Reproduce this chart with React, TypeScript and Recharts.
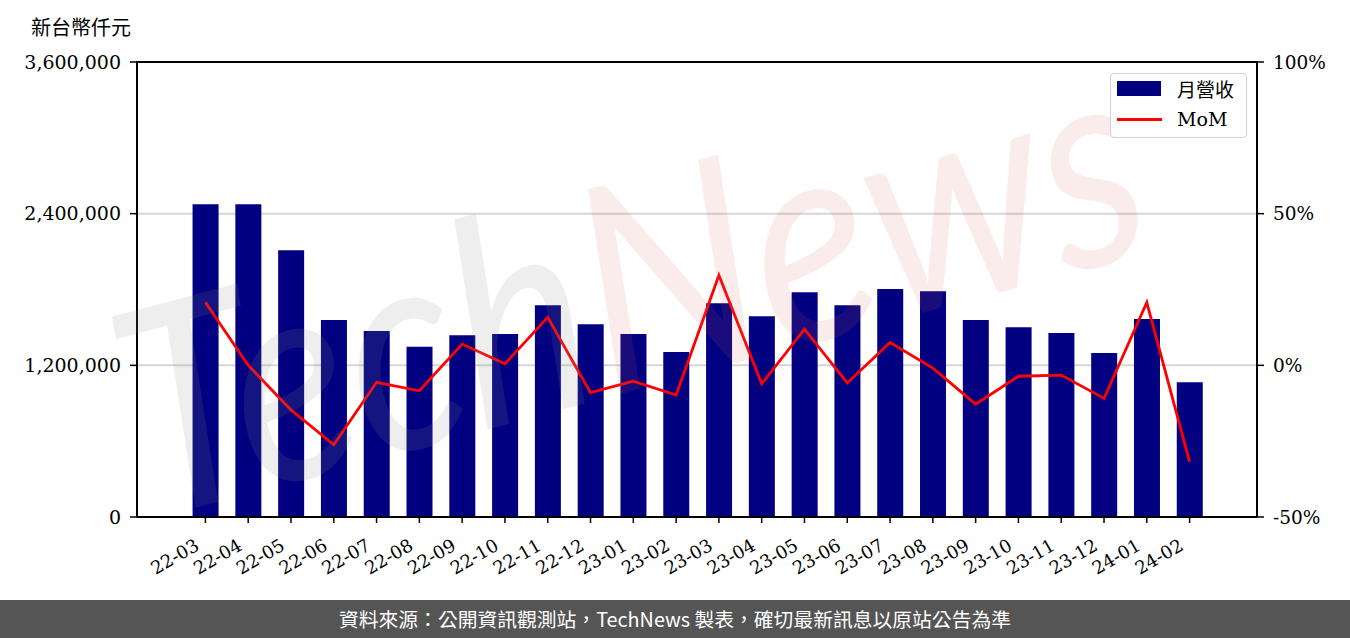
import { ComposedChart, Bar, Line, XAxis, YAxis, CartesianGrid } from 'recharts'

const months = [
  '22-03', '22-04', '22-05', '22-06', '22-07', '22-08', '22-09', '22-10',
  '22-11', '22-12', '23-01', '23-02', '23-03', '23-04', '23-05', '23-06',
  '23-07', '23-08', '23-09', '23-10', '23-11', '23-12', '24-01', '24-02',
]

// 月營收 (新台幣仟元)
const revenue = [
  2475000, 2475000, 2111000, 1558000, 1471000, 1347000, 1439000, 1447000,
  1676000, 1526000, 1447000, 1305000, 1692000, 1589000, 1779000, 1676000,
  1803000, 1787000, 1558000, 1502000, 1455000, 1297000, 1566000, 1067000,
]

// MoM (%)
const mom = [
  20.8, 0.0, -14.7, -26.2, -5.6, -8.4, 7.0, 0.5,
  15.8, -9.0, -5.2, -9.8, 29.7, -6.1, 11.9, -5.8,
  7.5, -0.9, -12.8, -3.6, -3.2, -10.9, 20.7, -31.8,
]

const leftTicks = [0, 1200000, 2400000, 3600000]
const rightTicks = [-50, 0, 50, 100]

const data = months.map((m, i) => ({ month: m, revenue: revenue[i], mom: mom[i] }))

const serif = '"DejaVu Serif", serif'
const cjk = '"Noto Sans CJK TC", sans-serif'

const XTick = (props: any) => {
  const { x, y, payload } = props
  const ax = x - 5
  const ay = y + 24
  return (
    <text
      x={ax}
      y={ay}
      transform={`rotate(-30, ${ax}, ${ay})`}
      textAnchor="end"
      fontFamily={serif}
      fontSize={18}
      fill="#000"
    >
      {payload.value}
    </text>
  )
}

const LegendBox = () => (
  <div
    style={{
      position: 'absolute',
      left: 1110,
      top: 73,
      width: 137,
      height: 65,
      border: '1px solid #d0d0d0',
      borderRadius: 4,
      background: 'rgba(255,255,255,0.85)',
      boxSizing: 'border-box',
    }}
  >
    <div style={{ position: 'absolute', left: 6, top: 7, width: 44, height: 15, background: '#000080' }} />
    <div style={{ position: 'absolute', left: 66, top: 1, fontFamily: cjk, fontSize: 19, lineHeight: '28px', color: '#000' }}>
      月營收
    </div>
    <div style={{ position: 'absolute', left: 6, top: 44, width: 45, height: 3, background: '#ff0000' }} />
    <div style={{ position: 'absolute', left: 66, top: 32, fontFamily: serif, fontSize: 19, lineHeight: '26px', color: '#000' }}>
      MoM
    </div>
  </div>
)

export default function App() {
  return (
    <div style={{ position: 'absolute', left: 0, top: 0, width: 1350, height: 638, background: '#fff', overflow: 'hidden' }}>
      <div style={{ position: 'absolute', left: 31, top: 16, fontFamily: cjk, fontSize: 20, lineHeight: '22px', color: '#000' }}>
        新台幣仟元
      </div>
      <ComposedChart
        width={1350}
        height={600}
        data={data}
        margin={{ top: 62, right: 0, bottom: 0, left: 0 }}
        barCategoryGap="20%"
      >
        <CartesianGrid yAxisId="left" vertical={false} stroke="#d6d6d6" strokeWidth={2} />
        <XAxis
          dataKey="month"
          height={83}
          padding={{ left: 47, right: 46 }}
          interval={0}
          tickSize={6}
          tickMargin={2}
          tick={<XTick />}
          axisLine={{ stroke: '#000', strokeWidth: 2 }}
          tickLine={{ stroke: '#000', strokeWidth: 1.5 }}
        />
        <YAxis
          yAxisId="left"
          width={137}
          domain={[0, 3600000]}
          ticks={leftTicks}
          interval={0}
          tickSize={7}
          tickMargin={9}
          tickFormatter={(v: number) => v.toLocaleString('en-US')}
          tick={{ fontFamily: serif, fontSize: 19, fill: '#000' }}
          axisLine={{ stroke: '#000', strokeWidth: 2 }}
          tickLine={{ stroke: '#000', strokeWidth: 1.5 }}
        />
        <YAxis
          yAxisId="right"
          orientation="right"
          width={93}
          domain={[-50, 100]}
          ticks={rightTicks}
          interval={0}
          tickSize={7}
          tickMargin={9}
          tickFormatter={(v: number) => `${v}%`}
          tick={{ fontFamily: serif, fontSize: 18.5, fill: '#000' }}
          axisLine={{ stroke: '#000', strokeWidth: 2 }}
          tickLine={{ stroke: '#000', strokeWidth: 1.5 }}
        />
        <Bar yAxisId="left" dataKey="revenue" name="月營收" fill="#000080" isAnimationActive={false} />
        <Line
          yAxisId="right"
          dataKey="mom"
          name="MoM"
          type="linear"
          stroke="#ff0000"
          strokeWidth={2.8}
          dot={false}
          activeDot={false}
          isAnimationActive={false}
        />
      </ComposedChart>
      {/* top spine */}
      <div style={{ position: 'absolute', left: 136, top: 61, width: 1122, height: 2, background: '#000' }} />
      {/* watermark */}
      <svg width={1350} height={600} style={{ position: 'absolute', left: 0, top: 0, pointerEvents: 'none' }}>
        <text
          x={150}
          y={520}
          transform="translate(150 520) rotate(-15) scale(1 1.15) translate(-150 -520)"
          fontFamily='"Lato", sans-serif'
          fontStyle="italic"
          fontSize={250}
        >
          <tspan fill="rgba(140,140,140,0.15)">Tech</tspan>
          <tspan fill="rgba(220,100,100,0.12)">News</tspan>
        </text>
      </svg>
      <LegendBox />
      <div
        style={{
          position: 'absolute',
          left: 0,
          top: 600,
          width: 1350,
          height: 38,
          background: '#555555',
          color: '#fff',
          fontFamily: cjk,
          fontSize: 19.8,
          lineHeight: '38px',
          textAlign: 'center',
        }}
      >
        資料來源：公開資訊觀測站，TechNews 製表，確切最新訊息以原站公告為準
      </div>
    </div>
  )
}
